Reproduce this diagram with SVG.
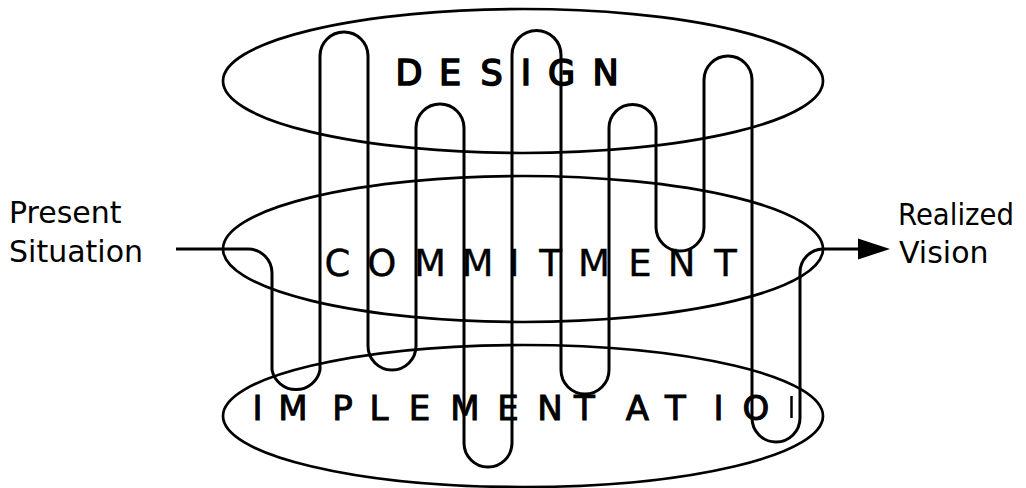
<svg xmlns="http://www.w3.org/2000/svg" width="1026" height="488" viewBox="0 0 1026 488">
  <style>
    .ell { fill: none; stroke: #000; stroke-width: 2.7; }
    .big { font-family: "DejaVu Sans", "Liberation Sans", sans-serif; fill: #000; text-anchor: middle; }
    .lbl { font-family: "DejaVu Sans", "Liberation Sans", sans-serif; font-size: 30px; fill: #000; }
    .wire { fill: none; stroke: #000; stroke-width: 3; stroke-linejoin: round; }
  </style>
  <rect width="1026" height="488" fill="#fff"/>
  <g id="design">
    <ellipse class="ell" cx="523" cy="81" rx="300" ry="72"/>
    <text class="big" font-size="35" stroke="#000" stroke-width="1.6" y="85" x="409 429.5 450 470.7 491.5 508.7 526 543.7 561.5 583.5 605.5">D E S I G N</text>
  </g>
  <g id="commitment">
    <ellipse class="ell" cx="523" cy="249" rx="300" ry="73"/>
    <text class="big" font-size="37" stroke="#000" stroke-width="0.4" y="276" x="337.5 359.6 381.7 405.8 430 453.7 477.5 495.7 514 532.2 550.5 572.2 594 617 640 660.7 681.5 703.5 725.5">C O M M I T M E N T</text>
  </g>
  <g id="implementation">
    <ellipse class="ell" cx="523" cy="416" rx="300" ry="71"/>
    <text class="big" font-size="34" stroke="#000" stroke-width="1" y="420" x="257.5 275.2 293 317.7 342.5 360.7 379 399.2 419.5 442.2 465 486.5 508 529 550 567.2 584.5 611 637.5 656.5 675.5 697 718.5 737.2 756">I M P L E M E N T A T I O</text>
    <line x1="791.5" y1="396" x2="791.5" y2="418" stroke="#000" stroke-width="2.5"/>
  </g>
  <g id="present-situation">
    <text class="lbl" x="9" y="223">Present</text>
    <text class="lbl" x="9" y="262">Situation</text>
  </g>
  <g id="realized-vision">
    <text class="lbl" x="898" y="225" textLength="116" lengthAdjust="spacingAndGlyphs">Realized</text>
    <text class="lbl" x="899" y="263">Vision</text>
  </g>
  <g id="connectors">
    <path class="wire" d="M 176 249 H 248 A 24 24 0 0 1 272 273 V 370 A 24.5 24.5 0 0 0 320 370 V 56 A 24 24 0 0 1 368 56 V 346 A 24 24 0 0 0 416 346 V 128 A 24 24 0 0 1 464 128 V 443 A 24 24 0 0 0 512 443 V 55 A 24.5 24.5 0 0 1 561 55 V 370 A 24 24 0 0 0 609 370 V 128 A 23.5 23.5 0 0 1 656 128 V 227 A 24 24 0 0 0 704 227 V 80 A 24 24 0 0 1 752 80 V 418 A 24 24 0 0 0 800 418 V 273 A 23.5 23.5 0 0 1 823 249 H 860"/>
    <polygon points="858,238.5 890,249 858,259.5" fill="#000"/>
  </g>
</svg>
